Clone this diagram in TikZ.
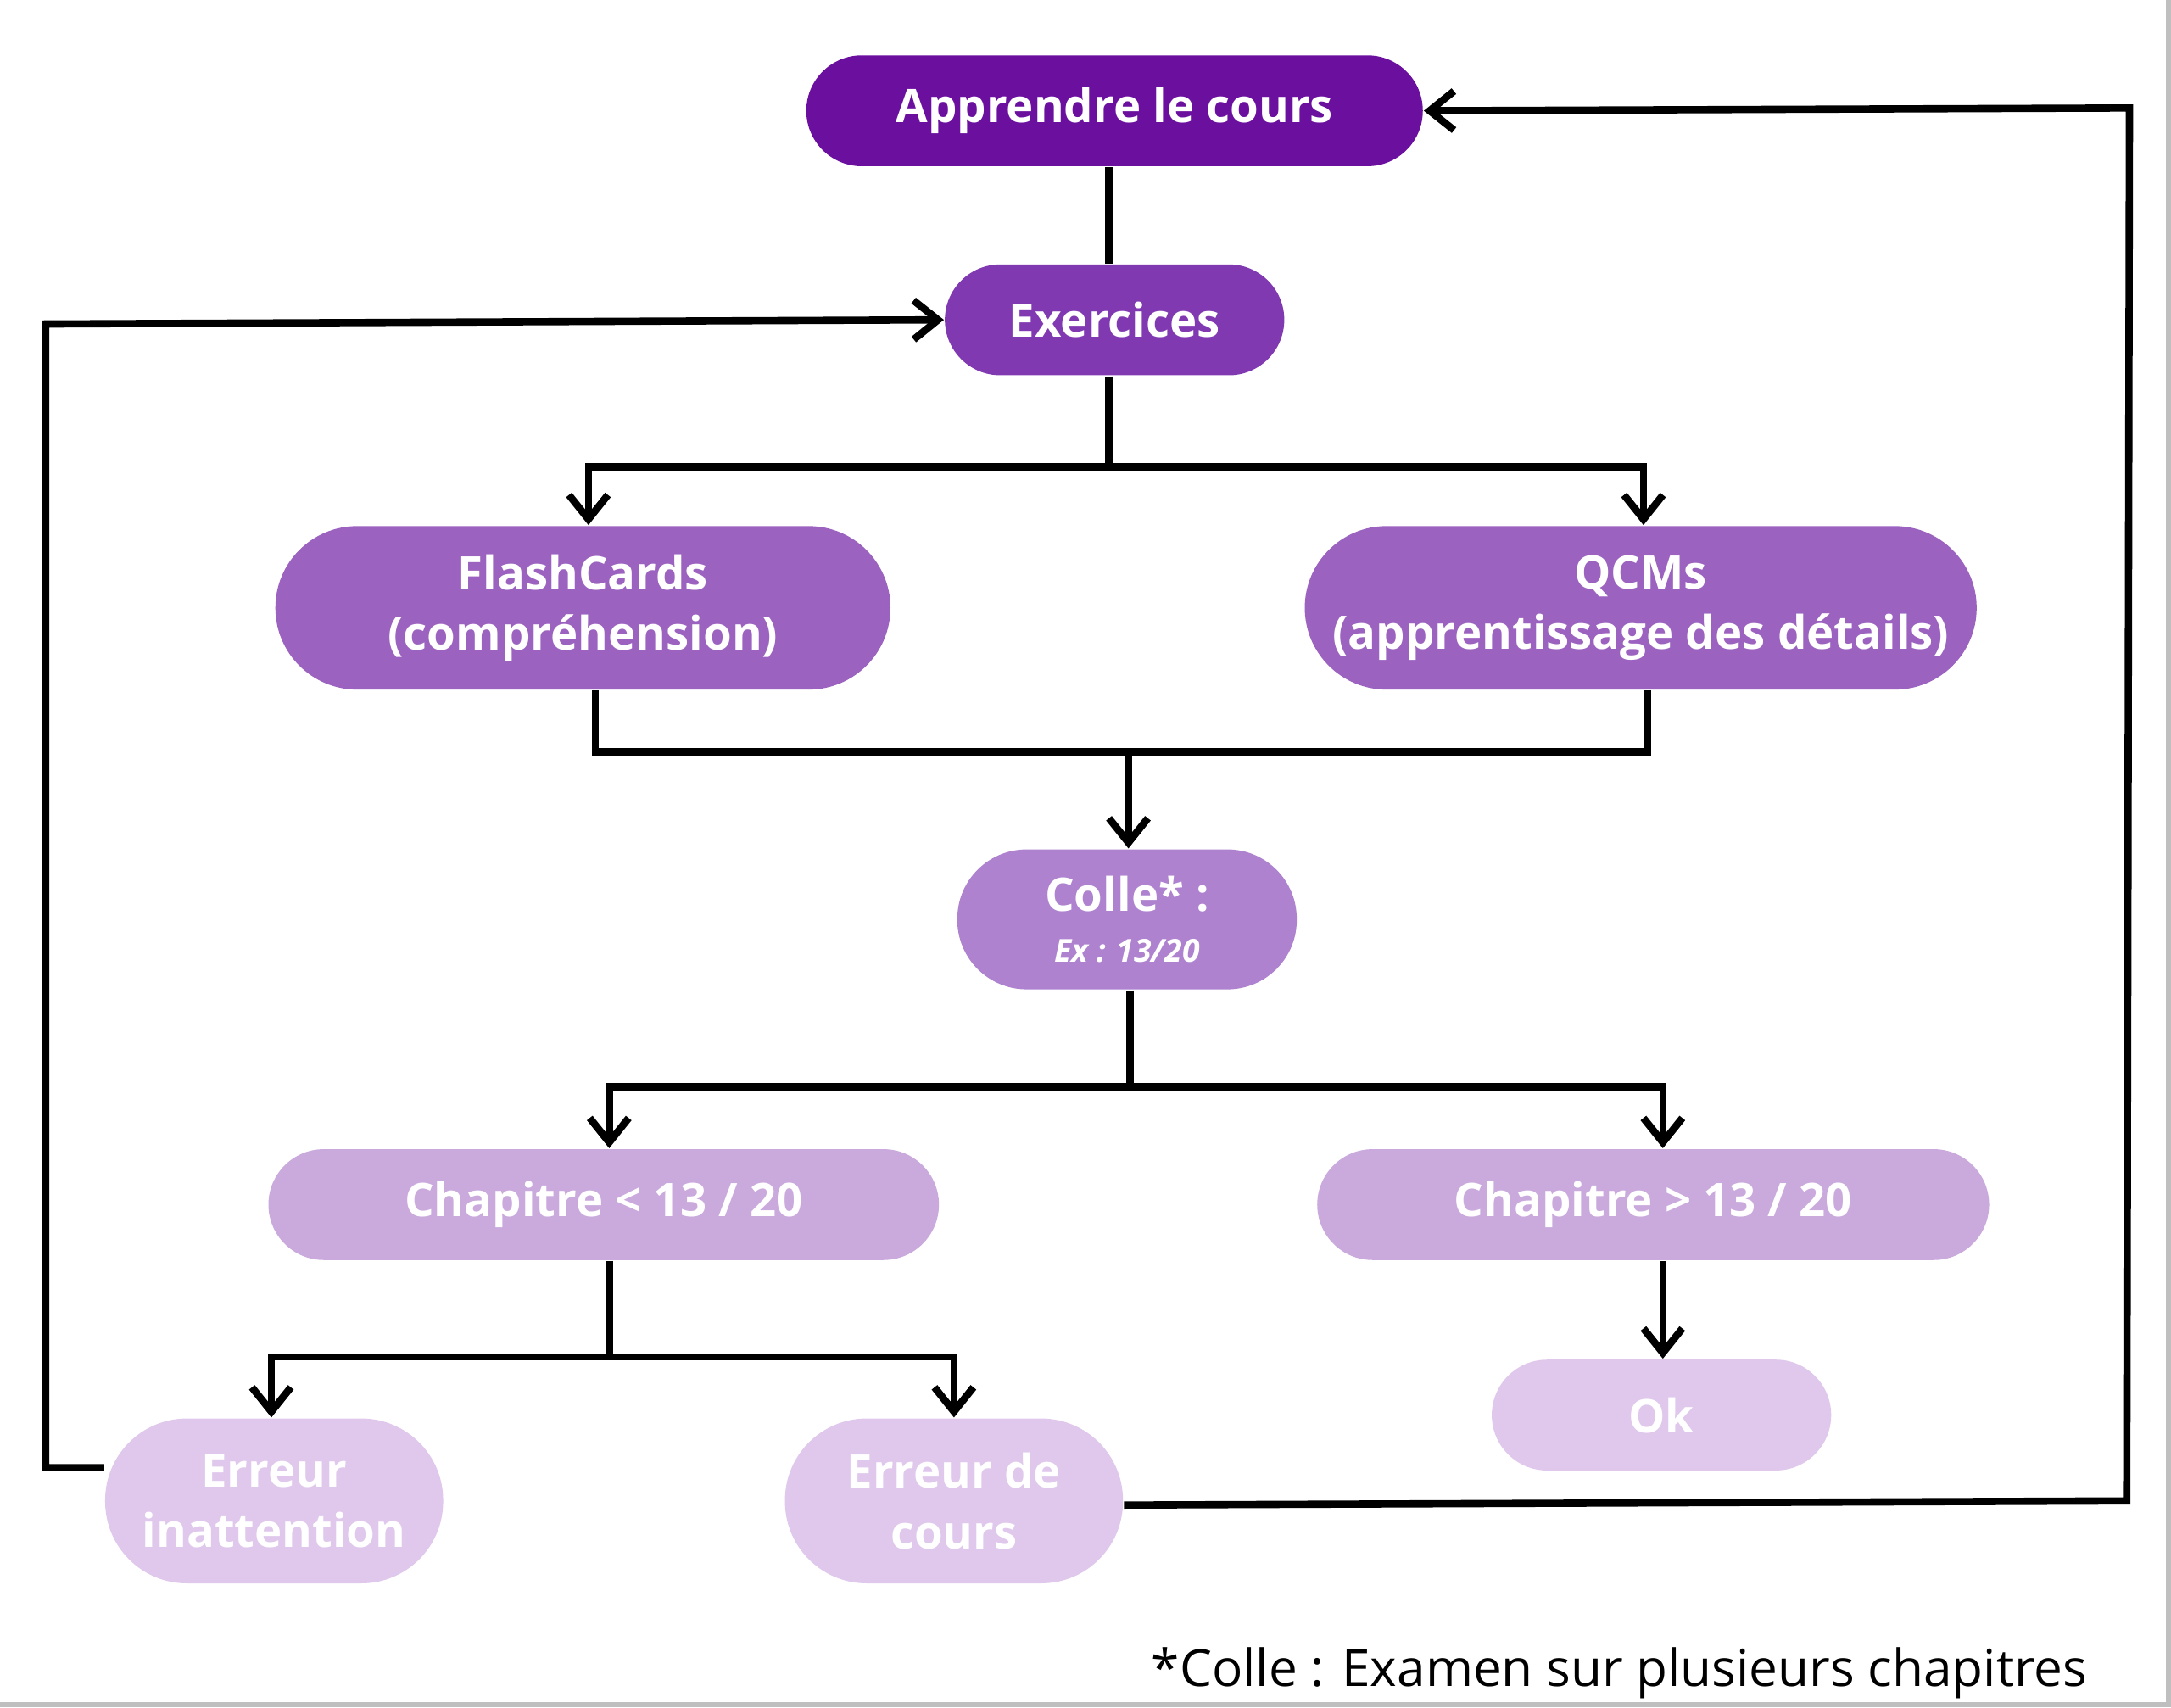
\documentclass[tikz,border=0pt]{standalone}
\usepackage{fontspec}
\setmainfont{Open Sans}
\usetikzlibrary{arrows.meta}
\definecolor{c1}{HTML}{6A0F9E}
\definecolor{c2}{HTML}{8139B2}
\definecolor{c3}{HTML}{9B63BF}
\definecolor{c4}{HTML}{AE82CE}
\definecolor{c5}{HTML}{CAA9DD}
\definecolor{c6}{HTML}{DFC8EC}
\tikzset{
  box/.style n args={4}{draw=none,fill=#1,text=white,font=\bfseries\fontsize{9.5}{12.5}\selectfont,
    minimum width=#2cm,minimum height=#3cm,rounded corners=#4cm,align=center,inner sep=0pt},
  ln/.style={line width=1.5pt,black},
  ar/.style={ln,-{Straight Barb[length=5pt,width=8pt,line width=1.5pt]}}
}
\begin{document}
\begin{tikzpicture}[x=0.01cm,y=-0.01cm]
\useasboundingbox (0,0) rectangle (1568,1233);
\draw[gray!50,line width=1pt] (1566,0) -- (1566,1231) -- (0,1231);
\node[box={c1}{4.45}{0.80}{0.40}] (a) at (805,80) {Apprendre le cours};
\node[box={c2}{2.45}{0.80}{0.40}] (e) at (805,231) {Exercices};
\node[box={c3}{4.44}{1.18}{0.59}] (f) at (421,439) {FlashCards\\(compréhension)};
\node[box={c3}{4.85}{1.18}{0.59}] (q) at (1185,439) {QCMs\\(apprentissage des détails)};
\node[box={c4}{2.45}{1.01}{0.50}] (c) at (814,664) {Colle* :\\[-2pt]{\itshape\fontsize{6.5}{8}\selectfont Ex : 13/20}};
\node[box={c5}{4.84}{0.80}{0.40}] (l) at (436,870) {Chapitre < 13 / 20};
\node[box={c5}{4.85}{0.80}{0.40}] (g) at (1194,870) {Chapitre > 13 / 20};
\node[box={c6}{2.45}{0.80}{0.40}] (ok) at (1200,1022) {Ok};
\node[box={c6}{2.44}{1.19}{0.59}] (ei) at (198,1084) {Erreur\\inattention};
\node[box={c6}{2.44}{1.19}{0.59}] (ec) at (689,1084) {Erreur de\\cours};
\node[anchor=base east,font=\fontsize{10.5}{12}\selectfont] (fn) at (1520,1218) {*Colle : Examen sur plusieurs chapitres};
\coordinate (j1) at (801,337);
\coordinate (j2) at (815,543);
\coordinate (j3) at (816,785);
\coordinate (j4) at (440,980);
\draw[ln] (a.south -| 801,0) -- (e.north -| 801,0);
\draw[ln] (e.south -| 801,0) -- (j1);
\draw[ar] (j1) -- (425,337) -- (f.north -| 425,0);
\draw[ar] (j1) -- (1187,337) -- (q.north -| 1187,0);
\draw[ln] (f.south -| 430,0) -- (430,543) -- (1190,543) -- (q.south -| 1190,0);
\draw[ar] (j2) -- (c.north -| 815,0);
\draw[ln] (c.south -| 816,0) -- (j3);
\draw[ar] (j3) -- (440,785) -- (l.north -| 440,0);
\draw[ar] (j3) -- (1201,785) -- (g.north -| 1201,0);
\draw[ar] (g.south -| 1201,0) -- (ok.north -| 1201,0);
\draw[ln] (l.south -| 440,0) -- (j4);
\draw[ar] (j4) -- (196,980) -- (ei.north -| 196,0);
\draw[ar] (j4) -- (689,980) -- (ec.north -| 689,0);
\draw[ar] (ei.west |- 0,1060) -- (33,1060) -- (33,234) -- (e.west);
\draw[ar] (ec.east |- 0,1087) -- (1536,1084) -- (1538,78) -- (a.east);
\end{tikzpicture}
\end{document}
